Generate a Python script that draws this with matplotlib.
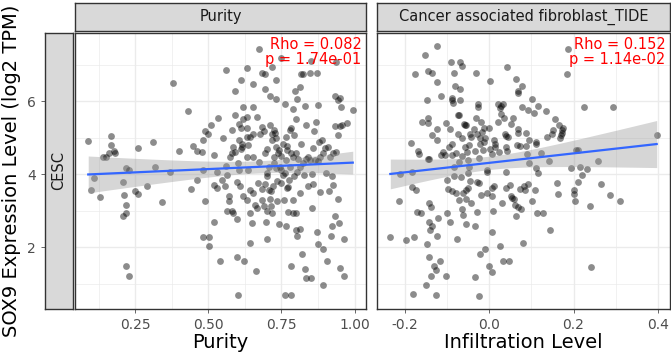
import numpy as np
import matplotlib
matplotlib.use("Agg")
import matplotlib.pyplot as plt

# ---------- data ----------
purity_x = [0.089, 0.097, 0.108, 0.128, 0.139, 0.149, 0.159, 0.168, 0.168, 0.177, 0.180, 0.208, 0.210, 0.208,
            0.218, 0.219, 0.219, 0.219, 0.230, 0.228, 0.249, 0.259, 0.259, 0.290, 0.310, 0.319, 0.341, 0.370,
            0.378, 0.400, 0.430, 0.440, 0.449, 0.460, 0.460, 0.477, 0.480, 0.480, 0.480, 0.490, 0.490, 0.500,
            0.501, 0.501, 0.509, 0.520, 0.520, 0.520, 0.531, 0.531, 0.532, 0.540, 0.551, 0.560, 0.560, 0.563,
            0.563, 0.572, 0.572, 0.580, 0.582, 0.582, 0.590, 0.592, 0.592, 0.599, 0.599, 0.599, 0.601, 0.601,
            0.606, 0.608, 0.610, 0.611, 0.614, 0.619, 0.619, 0.620, 0.622, 0.631, 0.631, 0.632, 0.632, 0.641,
            0.642, 0.642, 0.651, 0.653, 0.659, 0.663, 0.665, 0.670, 0.672, 0.672, 0.682, 0.682, 0.685, 0.691,
            0.693, 0.694, 0.694, 0.697, 0.699, 0.702, 0.702, 0.702, 0.708, 0.710, 0.711, 0.714, 0.714, 0.716,
            0.719, 0.723, 0.724, 0.730, 0.731, 0.732, 0.735, 0.736, 0.739, 0.742, 0.748, 0.750, 0.754, 0.754,
            0.758, 0.761, 0.764, 0.761, 0.767, 0.770, 0.772, 0.773, 0.781, 0.782, 0.782, 0.783, 0.790, 0.790,
            0.790, 0.792, 0.793, 0.795, 0.799, 0.801, 0.801, 0.803, 0.803, 0.803, 0.806, 0.813, 0.815, 0.815,
            0.817, 0.818, 0.822, 0.824, 0.826, 0.830, 0.832, 0.834, 0.834, 0.835, 0.841, 0.849, 0.851, 0.852,
            0.854, 0.854, 0.858, 0.858, 0.861, 0.868, 0.872, 0.873, 0.875, 0.875, 0.875, 0.878, 0.882, 0.890,
            0.892, 0.892, 0.898, 0.903, 0.906, 0.912, 0.920, 0.923, 0.924, 0.926, 0.932, 0.932, 0.934, 0.935,
            0.935, 0.943, 0.943, 0.943, 0.947, 0.949, 0.952, 0.952, 0.955, 0.958, 0.964, 0.964, 0.975, 0.994,
            0.606, 0.610, 0.616, 0.631, 0.636, 0.636, 0.653, 0.642, 0.682, 0.690, 0.693, 0.702, 0.708, 0.710,
            0.722, 0.725, 0.730, 0.744, 0.747, 0.750, 0.761, 0.767, 0.770, 0.776, 0.778, 0.733, 0.740, 0.716,
            0.719, 0.728, 0.585, 0.545, 0.557, 0.648, 0.653, 0.665, 0.585, 0.574, 0.790, 0.799, 0.813, 0.824,
            0.841, 0.847, 0.864, 0.881, 0.892, 0.909, 0.915, 0.926, 0.770, 0.778, 0.676, 0.653, 0.631, 0.606]
purity_y = [4.90, 3.56, 3.91, 3.37, 4.47, 4.48, 4.59, 5.05, 4.81, 4.64, 4.57, 3.80, 3.44, 2.85,
            4.16, 3.15, 2.94, 1.50, 1.21, 4.12, 3.55, 4.71, 3.47, 3.69, 4.88, 4.20, 3.24, 4.05,
            6.50, 4.63, 5.72, 3.60, 4.77, 3.85, 4.64, 4.62, 4.93, 4.12, 2.29, 5.18, 3.26, 5.11,
            2.29, 2.04, 5.36, 4.53, 2.69, 3.71, 4.06, 3.62, 5.55, 1.62, 4.98, 6.85, 4.23, 3.97,
            2.99, 3.41, 3.26, 4.59, 3.01, 5.22, 6.29, 4.62, 5.63, 3.78, 2.79, 1.74, 0.70, 4.30,
            4.95, 3.67, 5.27, 6.59, 4.84, 5.84, 5.52, 3.41, 1.62, 5.58, 3.31, 6.90, 5.01, 2.93,
            3.56, 2.13, 5.84, 6.47, 3.15, 1.35, 3.08, 3.76, 4.33, 7.43, 6.78, 3.60, 5.29, 5.19,
            4.57, 6.75, 6.33, 2.69, 3.94, 2.99, 2.22, 4.69, 4.21, 5.34, 6.14, 3.53, 3.13, 2.95,
            6.92, 5.20, 4.48, 6.59, 4.99, 6.05, 3.82, 3.26, 4.57, 2.63, 7.19, 4.12, 3.97, 4.84,
            3.31, 5.93, 2.58, 0.69, 5.03, 4.78, 3.65, 2.98, 4.59, 5.27, 1.48, 0.71, 5.79, 3.30,
            2.94, 3.94, 5.07, 6.29, 2.94, 5.52, 2.49, 6.06, 4.07, 2.31, 4.43, 6.39, 2.51, 3.49,
            6.74, 4.84, 1.82, 6.75, 3.98, 5.88, 1.41, 5.34, 1.16, 4.41, 3.67, 6.77, 7.10, 1.16,
            3.08, 4.02, 3.74, 4.71, 5.19, 5.42, 6.76, 2.43, 5.90, 4.35, 2.09, 4.89, 3.51, 4.93,
            1.95, 0.96, 4.72, 4.03, 1.62, 3.55, 2.31, 2.58, 3.94, 3.71, 5.32, 6.13, 2.85, 4.62,
            7.08, 6.02, 5.07, 3.33, 2.67, 5.32, 6.09, 1.45, 5.84, 5.34, 2.22, 1.21, 5.41, 5.76,
            5.38, 4.70, 4.75, 5.27, 4.12, 4.80, 5.11, 5.02, 3.31, 3.13, 3.73, 4.03, 3.58, 3.33,
            3.67, 4.30, 4.16, 4.21, 4.50, 3.76, 4.03, 4.39, 3.62, 3.85, 4.21, 4.75, 4.66, 4.93,
            5.11, 5.13, 2.93, 3.85, 3.67, 2.67, 3.49, 5.56, 4.75, 4.48, 4.48, 4.57, 4.21, 4.30,
            4.48, 4.39, 4.39, 4.48, 4.57, 4.75, 4.48, 4.57, 4.66, 5.20, 5.11, 4.48, 4.48, 4.12]

caf_x = [-0.234, -0.198, -0.214, -0.210, -0.184, -0.183, -0.182, -0.181, -0.179, -0.175, -0.173, -0.171,
         -0.169, -0.165, -0.162, -0.158, -0.153, -0.149, -0.147, -0.146, -0.145, -0.145, -0.145, -0.145,
         -0.143, -0.143, -0.142, -0.142, -0.140, -0.137, -0.137, -0.135, -0.135, -0.135, -0.131, -0.126,
         -0.125, -0.124, -0.124, -0.123, -0.123, -0.123, -0.122, -0.116, -0.114, -0.113, -0.110, -0.105,
         -0.101, -0.101, -0.099, -0.099, -0.097, -0.095, -0.093, -0.093, -0.091, -0.089, -0.089, -0.088,
         -0.087, -0.087, -0.086, -0.084, -0.083, -0.082, -0.080, -0.079, -0.078, -0.075, -0.074, -0.074,
         -0.072, -0.072, -0.071, -0.070, -0.070, -0.068, -0.067, -0.065, -0.065, -0.065, -0.064, -0.063,
         -0.062, -0.060, -0.058, -0.056, -0.055, -0.055, -0.054, -0.054, -0.052, -0.051, -0.050, -0.050,
         -0.048, -0.048, -0.046, -0.046, -0.044, -0.042, -0.036, -0.034, -0.034, -0.034, -0.032, -0.030,
         -0.028, -0.028, -0.028, -0.026, -0.026, -0.025, -0.024, -0.024, -0.022, -0.021, -0.021, -0.020,
         -0.018, -0.017, -0.015, -0.013, -0.013, -0.010, -0.009, -0.006, -0.005, -0.004, 0.000, 0.000,
         0.002, 0.003, 0.006, 0.006, 0.007, 0.007, 0.008, 0.010, 0.011, 0.012, 0.013, 0.015,
         0.021, 0.021, 0.023, 0.025, 0.025, 0.028, 0.029, 0.031, 0.033, 0.033, 0.035, 0.037,
         0.039, 0.039, 0.040, 0.041, 0.042, 0.043, 0.044, 0.047, 0.049, 0.051, 0.051, 0.055,
         0.056, 0.059, 0.061, 0.063, 0.063, 0.065, 0.068, 0.068, 0.069, 0.069, 0.069, 0.073,
         0.073, 0.075, 0.077, 0.079, 0.081, 0.082, 0.085, 0.087, 0.087, 0.089, 0.093, 0.093,
         0.094, 0.095, 0.102, 0.102, 0.106, 0.108, 0.110, 0.112, 0.112, 0.114, 0.116, 0.116,
         0.122, 0.128, 0.134, 0.138, 0.142, 0.144, 0.150, 0.152, 0.156, 0.160, 0.164, 0.165,
         0.169, 0.170, 0.172, 0.172, 0.176, 0.185, 0.188, 0.194, 0.200, 0.202, 0.204, 0.206,
         0.210, 0.210, 0.215, 0.221, 0.225, 0.231, 0.239, 0.241, 0.258, 0.264, 0.286, 0.293,
         0.311, 0.397]
caf_y = [2.29, 2.20, 3.28, 4.00, 4.86, 4.06, 3.65, 0.73, 2.29, 6.74, 3.58, 2.97,
         4.63, 4.55, 2.93, 5.43, 7.25, 0.96, 2.09, 6.04, 6.83, 5.54, 5.40, 4.41,
         1.74, 2.69, 4.43, 3.22, 2.49, 3.10, 1.23, 6.78, 5.07, 2.58, 1.50, 1.39,
         0.70, 2.31, 6.51, 7.52, 5.23, 4.93, 2.81, 1.62, 6.13, 4.52, 4.60, 4.54,
         5.41, 1.21, 3.85, 2.93, 3.60, 4.75, 2.69, 5.25, 7.08, 4.82, 4.53, 3.53,
         6.09, 6.03, 5.95, 6.77, 4.21, 3.94, 6.42, 4.57, 3.50, 2.22, 5.11, 5.61,
         5.61, 3.29, 4.33, 6.33, 6.02, 7.06, 3.92, 4.98, 4.50, 6.95, 3.05, 2.88,
         3.50, 5.37, 5.34, 4.75, 3.58, 3.32, 2.63, 5.34, 4.60, 4.03, 3.62, 4.39,
         4.80, 4.21, 5.09, 3.82, 5.02, 3.22, 5.25, 2.58, 4.64, 1.18, 6.76, 5.55,
         2.97, 3.78, 5.11, 5.84, 5.93, 4.45, 0.66, 3.76, 5.00, 4.82, 1.82, 3.44,
         5.43, 5.16, 4.66, 5.27, 4.89, 4.98, 1.95, 3.49, 4.12, 4.06, 1.50, 5.27,
         4.68, 6.56, 1.34, 2.43, 3.62, 4.55, 3.40, 3.01, 3.69, 4.93, 4.75, 4.84,
         5.91, 5.43, 4.62, 2.04, 5.81, 5.64, 5.88, 3.22, 1.64, 5.93, 5.54, 5.09,
         3.62, 4.75, 5.04, 4.05, 4.63, 6.92, 5.02, 1.64, 3.71, 5.37, 3.41, 3.35,
         5.55, 3.33, 3.17, 6.60, 2.85, 4.80, 6.27, 6.22, 3.11, 5.25, 5.13, 4.78,
         3.60, 3.05, 6.42, 5.84, 2.13, 3.67, 3.58, 5.13, 4.77, 4.55, 5.77, 3.74,
         4.93, 4.30, 6.06, 3.26, 5.67, 3.56, 4.16, 4.89, 4.82, 2.94, 5.88, 4.03,
         4.59, 2.94, 5.72, 5.02, 4.36, 2.47, 5.09, 5.20, 5.52, 3.76, 3.47, 5.36,
         5.00, 5.07, 5.22, 5.14, 5.27, 6.74, 7.43, 4.16, 3.46, 3.58, 3.28, 4.66,
         4.66, 3.79, 4.21, 3.98, 5.84, 4.14, 3.13, 1.47, 4.36, 3.73, 3.44, 5.85,
         3.28, 5.07]

panel_titles = ["Purity", "Cancer associated fibroblast_TIDE"]
x_labels = ["Purity", "Infiltration Level"]
rho_text = ["Rho = 0.082\np = 1.74e-01", "Rho = 0.152\np = 1.14e-02"]
x_ticks = [[0.25, 0.50, 0.75, 1.00], [-0.2, 0.0, 0.2, 0.4]]
x_ticklabels = [["0.25", "0.50", "0.75", "1.00"], ["-0.2", "0.0", "0.2", "0.4"]]
x_minor = [[0.125, 0.375, 0.625, 0.875], [-0.1, 0.1, 0.3]]
y_ticks = [2, 4, 6]
y_minor = [1, 3, 5, 7]

# ---------- layout helpers ----------
W, H = 671, 359
fig = plt.figure(figsize=(W / 100, H / 100), dpi=100)
GRID = "#EBEBEB"; BORDER = "#333333"; STRIP = "#D9D9D9"; TICK = "#4D4D4D"


def px_axes(x0, y0, x1, y1):
    return fig.add_axes([x0 / W, 1 - y1 / H, (x1 - x0) / W, (y1 - y0) / H])


def expand(v):
    lo, hi = min(v), max(v); d = (hi - lo) * 0.05
    return lo - d, hi + d


ylim = expand(purity_y + caf_y)
panels = [(75, 366, purity_x, purity_y), (377, 670, caf_x, caf_y)]

for i, (x0, x1, xs, ys) in enumerate(panels):
    ax = px_axes(x0, 33, x1, 309)
    xs, ys = np.array(xs), np.array(ys)
    ax.set_xlim(*expand(xs)); ax.set_ylim(*ylim)
    for v in x_minor[i]: ax.axvline(v, color=GRID, lw=0.5, zorder=0)
    for v in y_minor: ax.axhline(v, color=GRID, lw=0.5, zorder=0)
    for v in x_ticks[i]: ax.axvline(v, color=GRID, lw=1.0, zorder=0)
    for v in y_ticks: ax.axhline(v, color=GRID, lw=1.0, zorder=0)

    ax.scatter(xs, ys, s=24, color="black", alpha=0.45, linewidths=0, zorder=2)

    # lm fit + 95% CI
    n = len(xs); b, a = np.polyfit(xs, ys, 1)
    res = ys - (a + b * xs); s = np.sqrt(np.sum(res ** 2) / (n - 2))
    gx = np.linspace(xs.min(), xs.max(), 80); gy = a + b * gx
    se = s * np.sqrt(1 / n + (gx - xs.mean()) ** 2 / np.sum((xs - xs.mean()) ** 2))
    ax.fill_between(gx, gy - 1.97 * se, gy + 1.97 * se, color="#999999", alpha=0.4, lw=0, zorder=3)
    ax.plot(gx, gy, color="#3366FF", lw=1.6, zorder=4)

    ax.text(0.985, 0.985, rho_text[i], transform=ax.transAxes, ha="right", va="top",
            color="red", fontsize=10.5, linespacing=0.95, zorder=5)

    ax.set_xticks(x_ticks[i]); ax.set_xticklabels(x_ticklabels[i])
    ax.tick_params(axis="x", colors=TICK, labelcolor=TICK, labelsize=10, length=3, width=0.6)
    ax.set_yticks([])
    for sp in ax.spines.values():
        sp.set_color(BORDER); sp.set_linewidth(1.0)
    ax.set_xlabel(x_labels[i], fontsize=14, labelpad=1)

    # top strip
    st = px_axes(x0, 3, x1, 31)
    st.set_facecolor(STRIP); st.set_xticks([]); st.set_yticks([])
    for sp in st.spines.values():
        sp.set_color(BORDER); sp.set_linewidth(1.0)
    st.text(0.5, 0.5, panel_titles[i], ha="center", va="center", fontsize=10.5, color="#1A1A1A")

# side strip (carries the y ticks, outside the strip)
ss = px_axes(45, 33, 73, 309)
ss.set_facecolor(STRIP); ss.set_xticks([]); ss.set_ylim(*ylim)
ss.set_yticks(y_ticks)
ss.tick_params(axis="y", colors=TICK, labelcolor=TICK, labelsize=10, length=3, width=0.6)
for sp in ss.spines.values():
    sp.set_color(BORDER); sp.set_linewidth(1.0)
ss.text(0.5, 0.5, "CESC", transform=ss.transAxes, ha="center", va="center", rotation=90,
        fontsize=10.5, color="#1A1A1A")

fig.text(12 / W, 1 - 171 / H, "SOX9 Expression Level (log2 TPM)", rotation=90,
         ha="center", va="center", fontsize=14)

fig.savefig("out.png", dpi=100)
